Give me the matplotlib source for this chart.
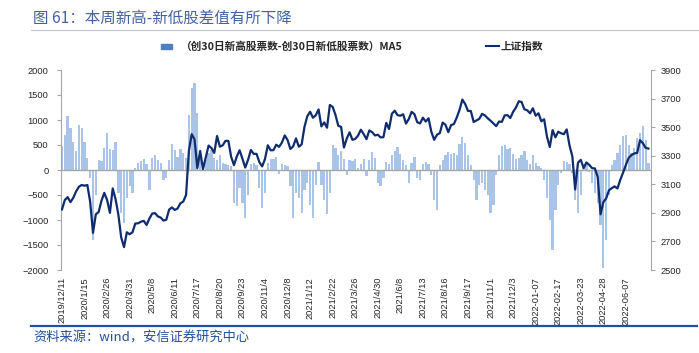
import matplotlib
matplotlib.use("Agg")
import matplotlib.pyplot as plt
import numpy as np
from matplotlib.lines import Line2D
from matplotlib.patches import Patch

plt.rcParams["font.family"] = ["Liberation Sans", "Noto Sans CJK SC", "DejaVu Sans"]
CJK = ["Noto Sans CJK SC", "DejaVu Sans"]

COLOR_BAR = "#a9c4e7"
COLOR_BAR_LEGEND = "#4f7fc0"
COLOR_LINE = "#0f2c6e"
COLOR_AXIS = "#a6a6a6"
COLOR_TEXT = "#262626"
COLOR_TITLE = "#4262a0"
COLOR_SOURCE = "#2150a0"

# x tick labels, one every 8 samples (each sample = 3 trading days)
tick_labels = [
    "2019/12/11", "2020/1/15", "2020/2/26", "2020/3/31", "2020/5/8", "2020/6/11",
    "2020/7/17", "2020/8/20", "2020/9/23", "2020/11/4", "2020/12/8", "2021/1/12",
    "2021/2/22", "2021/3/26", "2021/4/30", "2021/6/8", "2021/7/13", "2021/8/16",
    "2021/9/17", "2021/11/1", "2021/12/3", "2022-01-07", "2022-02-17", "2022-03-23",
    "2022-04-28", "2022-06-07",
]

# (创30日新高股票数-创30日新低股票数) MA5
spread_ma5 = [
    480, 700, 1080, 850, 560, 380, 900, 850,
    560, 250, -150, -1400, -500, 200, 180, 450,
    740, 420, 400, 560, -450, -850, -1050, -550,
    -320, -450, 50, 150, 180, 230, 120, -400,
    250, 300, 200, 150, -190, -150, 200, 520,
    400, 270, 420, 350, 250, 1100, 1650, 1750,
    1150, 300, 100, 200, 350, 400, 250, 200,
    300, 150, 120, 100, 80, -650, -720, -350,
    -650, -950, -500, 120, 150, 100, -350, -750,
    -450, 150, 220, 230, 270, -80, 120, 100,
    80, -320, -950, -450, -550, -850, -400, -250,
    -700, -950, -300, 170, -300, -600, -880, -450,
    500, 450, 300, 380, 230, -90, 200, 180,
    230, 50, 120, 230, -120, 200, 370, 250,
    -250, -320, -150, 170, 120, 300, 380, 470,
    330, 200, 100, -250, 150, 270, -150, -190,
    120, 170, 120, -100, -600, -790, 100, 200,
    300, 370, 330, 350, 300, 530, 670, 550,
    300, 100, -200, -600, -300, -250, -400, -500,
    -850, -700, -100, 300, 480, 500, 420, 450,
    320, 230, 250, 300, 380, 200, 120, 300,
    150, 80, 50, -200, -550, -1000, -1600, -800,
    -300, -50, 180, 170, 120, -50, -600, -850,
    -500, 60, 120, -30, -250, -450, -650, -1100,
    -1950, -1400, -500, 100, 200, 350, 500, 680,
    700, 500, 350, 450, 650, 750, 880, 600,
    150,
]

# 上证指数
sh_index = [
    2924, 2990, 3010, 2975, 3005, 3050, 3083, 3095,
    3090, 3095, 2976, 2760, 2890, 2906, 2984, 3040,
    2990, 2900, 3071, 2996, 2887, 2728, 2660, 2764,
    2750, 2764, 2825, 2827, 2838, 2844, 2815, 2860,
    2895, 2898, 2875, 2867, 2846, 2852, 2923, 2938,
    2920, 2931, 2967, 2979, 3025, 3332, 3451, 3415,
    3214, 3333, 3206, 3287, 3371, 3354, 3320, 3438,
    3363, 3373, 3404, 3404, 3292, 3234, 3295, 3338,
    3279, 3217, 3272, 3340, 3313, 3313, 3255, 3225,
    3277, 3373, 3338, 3339, 3377, 3362, 3392, 3442,
    3410, 3347, 3366, 3421, 3363, 3379, 3502, 3576,
    3608, 3566, 3583, 3624, 3505, 3533, 3496, 3655,
    3642, 3585, 3509, 3502, 3357, 3420, 3464, 3411,
    3418, 3441, 3482, 3451, 3416, 3477, 3465, 3442,
    3447, 3428, 3430, 3530, 3487, 3593, 3615, 3584,
    3580, 3590, 3525, 3557, 3607, 3591, 3534, 3526,
    3566, 3539, 3562, 3467, 3411, 3447, 3458, 3532,
    3517, 3465, 3514, 3522, 3567, 3621, 3693, 3662,
    3613, 3613, 3536, 3547, 3558, 3593, 3582, 3562,
    3545, 3526, 3507, 3539, 3537, 3582, 3584, 3564,
    3607, 3637, 3681, 3676, 3625, 3618, 3597, 3632,
    3580, 3597, 3541, 3555, 3434, 3361, 3479, 3429,
    3468, 3457, 3451, 3484, 3372, 3296, 3064, 3251,
    3271, 3214, 3253, 3236, 3213, 3211, 3151, 2890,
    2975, 3002, 3058, 3073, 3085, 3071, 3131, 3182,
    3236, 3285, 3305, 3316, 3320, 3409, 3388, 3355,
    3350,
]


def main():
    x = np.arange(len(spread_ma5))

    fig = plt.figure(figsize=(6.99, 3.53), dpi=100)
    ax = fig.add_axes([61 / 699, 1 - 270 / 353, 590 / 699, 200 / 353])
    ax2 = ax.twinx()

    ax.bar(x, spread_ma5, width=0.8, color=COLOR_BAR, linewidth=0)
    ax.axhline(0, color=COLOR_AXIS, linewidth=1.0, zorder=3)
    ax2.plot(x, sh_index, color=COLOR_LINE, linewidth=1.6)

    ax.set_xlim(-0.35, len(x) - 0.1)
    ax.set_ylim(-2000, 2000)
    ax.set_yticks(range(-2000, 2001, 500))
    ax2.set_ylim(2500, 3900)
    ax2.set_yticks(range(2500, 3901, 200))

    ax.set_xticks(np.arange(len(tick_labels)) * 8)
    ax.set_xticklabels(tick_labels, rotation=90, fontsize=6.7, color=COLOR_TEXT)
    ax.tick_params(axis="x", length=0, pad=5)

    for a in (ax, ax2):
        for s in ("top", "bottom"):
            a.spines[s].set_visible(False)
        a.spines["left"].set_color(COLOR_AXIS)
        a.spines["right"].set_color(COLOR_AXIS)
    ax.spines["right"].set_visible(False)
    ax2.spines["left"].set_visible(False)
    ax.tick_params(axis="y", length=3, color=COLOR_AXIS, labelsize=6.7,
                   labelcolor=COLOR_TEXT, pad=6)
    ax2.tick_params(axis="y", length=3, color=COLOR_AXIS, labelsize=6.7,
                    labelcolor=COLOR_TEXT, pad=4)

    # title and rules
    fig.text(33 / 699, 1 - 18 / 353, "图 61：本周新高-新低股差值有所下降", family=CJK,
             fontsize=11.2, color=COLOR_TITLE, va="center", ha="left")
    fig.add_artist(Line2D([31 / 699, 1.0], [1 - 30 / 353] * 2, color="#b8c6e0",
                          linewidth=0.8))
    fig.add_artist(Line2D([31 / 699, 697 / 699], [1 - 326 / 353] * 2, color=COLOR_SOURCE,
                          linewidth=1.6))
    fig.text(33 / 699, 1 - 338 / 353, "资料来源：wind，安信证券研究中心", family=CJK,
             fontsize=9.5, color=COLOR_SOURCE, va="center", ha="left", style="italic")

    # legends
    prop = {"family": CJK, "size": 7.7, "weight": "bold"}
    leg1 = fig.legend([Patch(color=COLOR_BAR_LEGEND)],
                      ["（创30日新高股票数-创30日新低股票数）MA5"],
                      loc="center left", bbox_to_anchor=(161 / 699, 1 - 47 / 353),
                      frameon=False, prop=prop, handlelength=1.0, handleheight=0.4,
                      handletextpad=0.9, borderpad=0, borderaxespad=0)
    for t in leg1.get_texts():
        t.set_color(COLOR_TEXT)
    leg2 = fig.legend([Line2D([], [], color=COLOR_LINE, linewidth=1.5)], ["上证指数"],
                      loc="center left", bbox_to_anchor=(486 / 699, 1 - 47 / 353),
                      frameon=False, prop=prop, handlelength=1.2,
                      handletextpad=0.2, borderpad=0, borderaxespad=0)
    for t in leg2.get_texts():
        t.set_color(COLOR_TEXT)

    fig.savefig("out.png", dpi=100)


if __name__ == "__main__":
    main()
